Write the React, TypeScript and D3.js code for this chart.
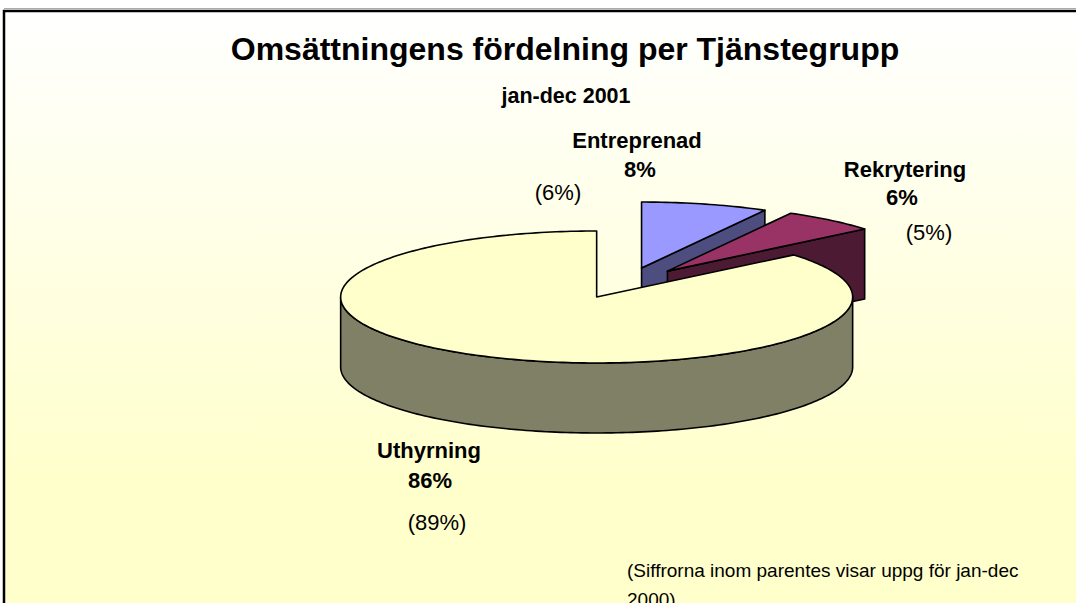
import React from 'react';
import * as d3 from 'd3';

// data
const categories = ['Entreprenad', 'Rekrytering', 'Uthyrning'];
const shares = [8, 6, 86];
const previousShares = ['(6%)', '(5%)', '(89%)'];
const title = 'Omsättningens fördelning per Tjänstegrupp';
const subTitle = 'jan-dec 2001';
const footnote = ['(Siffrorna inom parentes visar uppg för jan-dec', '2000)'];

const topColors = ['#9999FF', '#993366', '#FFFFCC'];
const sideColors = ['#4D4D80', '#4D1A33', '#808066'];

// pie geometry
const width = 1076,
  height = 603;
const cx = 625,
  cy = 283,
  rx = 256,
  ry = 66,
  depth = 70,
  explodeX = 0.26,
  explodeY = 0.234;

// label layout (name, percent, previous year)
const labelPos = [
  { x: 637, y: 148, px: 640, py: 177, ox: 558, oy: 200 },
  { x: 905, y: 177, px: 902, py: 205, ox: 929, oy: 240 },
  { x: 429, y: 458, px: 430, py: 488, ox: 437, oy: 530 },
];

const font = "'Liberation Sans', Arial, sans-serif";

function App() {
  const pie = d3
    .pie<number>()
    .sort(null)
    .value(d => d);
  const arcs = pie(shares);

  const line = d3.line();

  const slices = arcs.map((a, i) => {
    const mid = (a.startAngle + a.endAngle) / 2;
    const ox = cx + explodeX * rx * Math.sin(mid);
    const oy = cy - explodeY * ry * Math.cos(mid);
    const pt = (t: number, dz = 0): [number, number] => [ox + rx * Math.sin(t), oy - ry * Math.cos(t) + dz];
    const sample = (t0: number, t1: number, dz = 0) => {
      const n = Math.max(2, Math.ceil(Math.abs(t1 - t0) / 0.02));
      return d3.range(n + 1).map(k => pt(t0 + ((t1 - t0) * k) / n, dz));
    };
    const apex: [number, number] = [ox, oy];
    const apexB: [number, number] = [ox, oy + depth];

    const top = line([apex, ...sample(a.startAngle, a.endAngle), apex]) + 'Z';

    const sides: string[] = [];
    // radial faces facing the viewer
    if (Math.sin(a.startAngle) < -1e-6) {
      sides.push(line([apex, pt(a.startAngle), pt(a.startAngle, depth), apexB]) + 'Z');
    }
    if (Math.sin(a.endAngle) > 1e-6) {
      sides.push(line([apex, pt(a.endAngle), pt(a.endAngle, depth), apexB]) + 'Z');
    }
    // outer wall, front half only
    const w0 = Math.max(a.startAngle, Math.PI / 2);
    const w1 = Math.min(a.endAngle, (3 * Math.PI) / 2);
    if (w1 > w0) {
      sides.push(line([...sample(w0, w1), ...sample(w1, w0, depth)]) + 'Z');
    }
    return { i, oy, top, sides };
  });

  // back slices first
  const order = [...slices].sort((a, b) => a.oy - b.oy);

  return (
    <svg
      width={width}
      height={height}
      style={{ position: 'absolute', left: 0, top: 0, display: 'block' }}
      fontFamily={font}
    >
      <defs>
        <linearGradient id="bg" x1="0" y1="0" x2="0" y2="1">
          <stop offset="0" stopColor="#FFFFFF" />
          <stop offset="0.75" stopColor="#FFFFCC" />
          <stop offset="1" stopColor="#FFFFCC" />
        </linearGradient>
      </defs>
      <rect x={0} y={0} width={width} height={height} fill="#FFFFFF" />
      <line x1={4} x2={width} y1={8.5} y2={8.5} stroke="#AAAAAA" strokeWidth={1} />
      <rect x={4} y={11} width={width + 20} height={height + 20} fill="url(#bg)" stroke="#000" strokeWidth={2.5} />

      <text x={565} y={60} textAnchor="middle" fontSize={32} fontWeight="bold">
        {title}
      </text>
      <text x={566} y={103} textAnchor="middle" fontSize={21.5} fontWeight="bold">
        {subTitle}
      </text>

      <g stroke="#000" strokeWidth={1.6} strokeLinejoin="round">
        {order.map(s => (
          <g key={categories[s.i]}>
            {s.sides.map((d, k) => (
              <path key={k} d={d} fill={sideColors[s.i]} />
            ))}
            <path d={s.top} fill={topColors[s.i]} />
          </g>
        ))}
      </g>

      {categories.map((c, i) => {
        const p = labelPos[i];
        return (
          <g key={c} fontSize={22}>
            <text x={p.x} y={p.y} textAnchor="middle" fontWeight="bold">
              {c}
            </text>
            <text x={p.px} y={p.py} textAnchor="middle" fontWeight="bold">
              {shares[i] + '%'}
            </text>
            <text x={p.ox} y={p.oy} textAnchor="middle">
              {previousShares[i]}
            </text>
          </g>
        );
      })}

      {footnote.map((t, i) => (
        <text key={i} x={627} y={577 + i * 29} fontSize={19}>
          {t}
        </text>
      ))}
    </svg>
  );
}

export default App;
